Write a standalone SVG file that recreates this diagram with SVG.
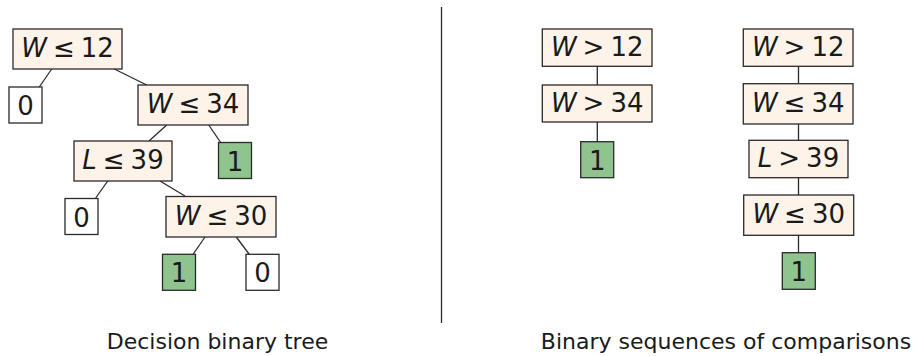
<svg xmlns="http://www.w3.org/2000/svg" width="917" height="356" viewBox="0 0 917 356">
<style>
.c rect{fill:#fdf3e8;stroke:#2a2a2a;stroke-width:1.3}
.g rect{fill:#8fc48f;stroke:#2a2a2a;stroke-width:1.3}
.w rect{fill:#ffffff;stroke:#2a2a2a;stroke-width:1.3}
text{font-family:"DejaVu Sans",sans-serif;font-size:26px;fill:#1a1a1a;text-anchor:middle}
.i{font-style:italic}
.lbl{font-size:22px}
#edges line{stroke:#2a2a2a;stroke-width:1.3}
</style>
<rect width="917" height="356" fill="#ffffff"/>
<g id="edges">
<line x1="51.7" y1="69" x2="39.3" y2="87"/>
<line x1="114.3" y1="69" x2="146.7" y2="85"/>
<line x1="166.7" y1="125" x2="149" y2="141"/>
<line x1="208.7" y1="125" x2="221" y2="143"/>
<line x1="107.7" y1="181" x2="95.7" y2="198"/>
<line x1="160" y1="181" x2="185" y2="196"/>
<line x1="205" y1="237" x2="193.3" y2="254"/>
<line x1="236.3" y1="237" x2="249" y2="254"/>
<line x1="597.3" y1="66" x2="597.3" y2="85"/>
<line x1="597.3" y1="122" x2="597.3" y2="142"/>
<line x1="798.5" y1="66" x2="798.5" y2="84"/>
<line x1="798.5" y1="124" x2="798.5" y2="140"/>
<line x1="798.5" y1="177" x2="798.5" y2="195"/>
<line x1="798.5" y1="235" x2="798.5" y2="253"/>
<line x1="441.5" y1="7" x2="441.5" y2="323"/>
</g>
<g id="n1" class="c"><rect x="13" y="29" width="109" height="40"/><text x="67.5" y="57"><tspan class="i">W</tspan><tspan dx="6">≤</tspan><tspan dx="6">12</tspan></text></g>
<g id="n2" class="w"><rect x="9" y="87" width="33" height="36"/><text x="25.5" y="115">0</text></g>
<g id="n3" class="c"><rect x="138" y="85" width="110" height="40"/><text x="193" y="113"><tspan class="i">W</tspan><tspan dx="6">≤</tspan><tspan dx="6">34</tspan></text></g>
<g id="n4" class="c"><rect x="74" y="141" width="98" height="40"/><text x="123" y="169"><tspan class="i">L</tspan><tspan dx="6">≤</tspan><tspan dx="6">39</tspan></text></g>
<g id="n5" class="g"><rect x="218.5" y="142.5" width="33" height="36"/><text x="235" y="170.5">1</text></g>
<g id="n6" class="w"><rect x="65" y="198.5" width="33" height="36"/><text x="81.5" y="226.5">0</text></g>
<g id="n7" class="c"><rect x="166" y="196.5" width="110" height="40.5"/><text x="221" y="224.5"><tspan class="i">W</tspan><tspan dx="6">≤</tspan><tspan dx="6">30</tspan></text></g>
<g id="n8" class="g"><rect x="162.5" y="254.3" width="33" height="36"/><text x="179" y="282.3">1</text></g>
<g id="n9" class="w"><rect x="246" y="254.3" width="33" height="36"/><text x="262.5" y="282.3">0</text></g>
<g id="s1" class="c"><rect x="542.3" y="29" width="109.7" height="37.3"/><text x="597.2" y="56"><tspan class="i">W</tspan><tspan dx="6">&gt;</tspan><tspan dx="6">12</tspan></text></g>
<g id="s2" class="c"><rect x="542.3" y="85" width="109.7" height="37"/><text x="597.2" y="112"><tspan class="i">W</tspan><tspan dx="6">&gt;</tspan><tspan dx="6">34</tspan></text></g>
<g id="s3" class="g"><rect x="580.7" y="141.7" width="33" height="36"/><text x="597.2" y="169.7">1</text></g>
<g id="t1" class="c"><rect x="743.3" y="29" width="109.7" height="37.3"/><text x="798.2" y="56"><tspan class="i">W</tspan><tspan dx="6">&gt;</tspan><tspan dx="6">12</tspan></text></g>
<g id="t2" class="c"><rect x="743.3" y="83.7" width="109.7" height="40.3"/><text x="798.2" y="111.7"><tspan class="i">W</tspan><tspan dx="6">≤</tspan><tspan dx="6">34</tspan></text></g>
<g id="t3" class="c"><rect x="749" y="140.3" width="99" height="37.4"/><text x="798.5" y="167.3"><tspan class="i">L</tspan><tspan dx="6">&gt;</tspan><tspan dx="6">39</tspan></text></g>
<g id="t4" class="c"><rect x="743.7" y="195" width="110" height="40.3"/><text x="798.7" y="223"><tspan class="i">W</tspan><tspan dx="6">≤</tspan><tspan dx="6">30</tspan></text></g>
<g id="t5" class="g"><rect x="782.3" y="252.7" width="33" height="36.6"/><text x="798.8" y="280.7">1</text></g>
<text class="lbl" x="217.5" y="348.5">Decision binary tree</text>
<text class="lbl" x="726" y="348.5">Binary sequences of comparisons</text>
</svg>
